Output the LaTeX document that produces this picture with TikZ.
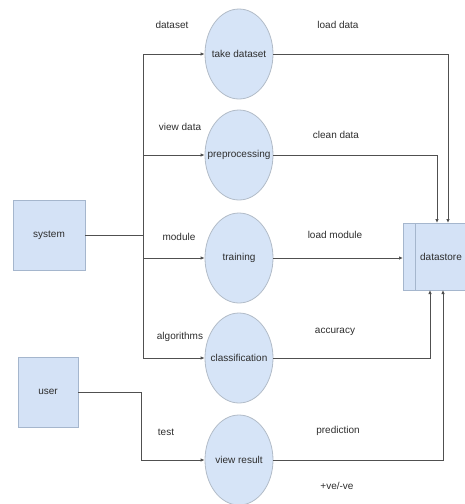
\documentclass[tikz,border=0pt]{standalone}
\usepackage{fontspec}
\setmainfont{Liberation Sans}
\usetikzlibrary{shapes.geometric,arrows.meta}
\definecolor{bubfill}{RGB}{214,228,247}
\definecolor{bubdraw}{RGB}{178,188,200}
\definecolor{boxfill}{RGB}{212,226,246}
\definecolor{boxdraw}{RGB}{165,182,205}
\definecolor{linec}{RGB}{80,80,80}
\definecolor{txt}{RGB}{45,45,45}
\tikzset{
  bubble/.style={ellipse, draw=bubdraw, fill=bubfill, line width=0.8pt, minimum width=68pt, minimum height=90pt, inner sep=0pt,
    label={[font=\fontsize{10}{12}\selectfont, text=txt, inner sep=0pt]center:#1}},
  ent/.style={rectangle, draw=boxdraw, fill=boxfill, line width=0.8pt, inner sep=0pt, font=\fontsize{10}{12}\selectfont, text=txt},
  lbl/.style={font=\fontsize{10}{12}\selectfont, text=txt, inner sep=0pt},
  conn/.style={draw=linec, line width=0.8pt},
  arr/.style={conn, -{Latex[length=4pt,width=3.5pt]}}
}
\begin{document}
\begin{tikzpicture}[x=1pt,y=-1pt]
\useasboundingbox (0,0) rectangle (465,504);
\clip (0,0) rectangle (465,504);
% entities
\node[ent, minimum width=72pt, minimum height=70pt] (sys) at (49,235) {system};
\node[ent, minimum width=60pt, minimum height=70pt] (usr) at (48,392) {user};
\node[ent, minimum width=66pt, minimum height=67pt, anchor=north west] (ds) at (403,223) {};
\draw[boxdraw, line width=0.8pt] (ds.north west) ++(12,0) coordinate (dsl1) -- (dsl1 |- ds.south);
\node[lbl] (dstxt) at (441,257) {datastore};
% processes
\node[bubble={take dataset}] (p1) at (239,54) {};
\node[bubble={preprocessing}] (p2) at (239,155) {};
\node[bubble={training}] (p3) at (239,258) {};
\node[bubble={classification}] (p4) at (239,358) {};
\node[bubble={view result}] (p5) at (239,460) {};
% junction coordinates
\coordinate (jtop) at (143,54);
\coordinate (jsys) at (143,235);
\coordinate (jbot) at (143,358);
\coordinate (j2) at (143,155);
\coordinate (j3) at (143,258);
\coordinate (ju) at (141,392);
\coordinate (ju2) at (141,460);
\coordinate (dt1) at (448,223);
\coordinate (dt2) at (437,223);
\coordinate (db1) at (430,290);
\coordinate (db2) at (443,290);
% system connectors
\draw[conn] (sys.east) -- (jsys);
\draw[conn] (jtop) -- (jbot);
\draw[arr] (jtop) -- (p1.west);
\draw[arr] (j2) -- (p2.west);
\draw[arr] (j3) -- (p3.west);
\draw[arr] (jbot) -- (p4.west);
% user connector
\draw[conn] (usr.east) -- (ju) -- (ju2);
\draw[arr] (ju2) -- (p5.west);
% to datastore
\draw[arr] (p1.east) -| (dt1);
\draw[arr] (p2.east) -| (dt2);
\draw[arr] (p3.east) -- (ds.west |- p3.east);
\draw[arr] (p4.east) -| (db1);
\draw[arr] (p5.east) -| (db2);
% labels
\node[lbl] (l1) at (172,25) {dataset};
\node[lbl] (l2) at (180,127) {view data};
\node[lbl] (l3) at (179,237) {module};
\node[lbl] (l4) at (180,337) {algorithms};
\node[lbl] (l5) at (166,432) {test};
\node[lbl] (r1) at (338,25) {load data};
\node[lbl] (r2) at (336,135) {clean data};
\node[lbl] (r3) at (335,235) {load module};
\node[lbl] (r4) at (335,332) {accuracy};
\node[lbl] (r5) at (338,431) {prediction};
\node[lbl] (r6) at (337,486) {+ve/-ve};
\end{tikzpicture}
\end{document}
